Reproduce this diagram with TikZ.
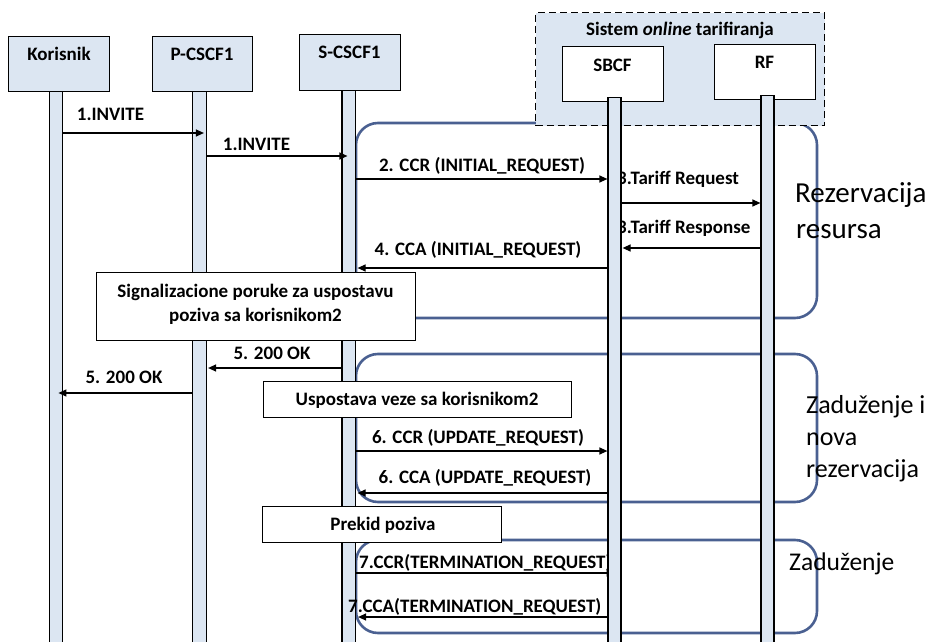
\documentclass[tikz,border=0pt]{standalone}
\usepackage{fontspec}
\setmainfont{Carlito}
\usetikzlibrary{arrows.meta,calc}
\definecolor{lb}{RGB}{220,230,242}
\definecolor{rb}{RGB}{74,96,145}
\begin{document}
\begin{tikzpicture}[x=1pt,y=-1pt,
  hdr/.style={draw=black,line width=1.3pt,fill=lb,minimum width=101pt,minimum height=55pt,inner sep=0pt,anchor=north west},
  wbox/.style={draw=black,line width=1.3pt,fill=white,inner sep=0pt,anchor=north west},
  btxt/.style={font=\fontsize{19}{23}\selectfont\bfseries,inner sep=0pt,anchor=base},
  rtxt/.style={font=\fontsize{26}{30}\selectfont,inner sep=0pt,anchor=base west},
  life/.style={draw=black,line width=1.2pt,fill=lb,inner sep=0pt,anchor=north},
  msg/.style={line width=1.2pt,-{Triangle[length=8pt,width=7pt]}},
  rbox/.style={draw=rb,line width=2.6pt,rounded corners=22pt}]
\useasboundingbox (0,0) rectangle (932,642);
% rounded phase boxes
\draw[rbox] (356,123) rectangle (817,318);
\draw[rbox] (356,354) rectangle (817,502);
\draw[rbox] (356,540) rectangle (817,633);
% online charging system
\node[draw=black,line width=1.3pt,dash pattern=on 7pt off 4pt,fill=lb,minimum width=289pt,minimum height=113pt,inner sep=0pt,anchor=north west] (sys) at (535,12) {};
\node[btxt] (tsys) at (680,36) {Sistem \textit{online} tarifiranja};
% headers
\node[hdr] (hK) at (8,36) {};
\node[hdr,minimum width=100pt] (hP) at (152,36) {};
\node[hdr,minimum height=56pt] (hS) at (299,34) {};
\node[wbox,minimum width=101pt,minimum height=55pt] (hB) at (562,46) {};
\node[wbox,minimum width=101pt,minimum height=55pt] (hR) at (714,44) {};
\node[btxt] (tK) at (59,60) {Korisnik};
\node[btxt] (tP) at (202,60) {P-CSCF1};
\node[btxt] (tS) at (349.5,59) {S-CSCF1};
\node[btxt] (tB) at (612.5,71) {SBCF};
\node[btxt] (tR) at (764.5,69) {RF};
% message labels
\node[btxt] (m1) at (110.5,121) {1.INVITE};
\node[btxt] (m2) at (256.5,150) {1.INVITE};
\node[btxt] (m3) at (482,171) {2. CCR (INITIAL\_REQUEST)};
\node[btxt,anchor=base west] (m4) at (617,184) {3.Tariff Request};
\node[btxt,anchor=base west] (m5) at (617,233) {3.Tariff Response};
\node[btxt] (m6) at (478,255) {4. CCA (INITIAL\_REQUEST)};
\node[btxt] (m7) at (272,359) {5. 200 OK};
\node[btxt] (m8) at (124,383) {5. 200 OK};
\node[btxt] (m9) at (478,443) {6. CCR (UPDATE\_REQUEST)};
\node[btxt] (m10) at (485,483) {6. CCA (UPDATE\_REQUEST)};
\node[btxt,anchor=base west] (m11) at (359,568) {7.CCR(TERMINATION\_REQUEST)};
% lifelines (coordinates for the hidden arrow)
\coordinate (LBc) at (614.5,573);
\draw[msg] (356,573) -- (LBc);
\node[life,minimum width=13pt,minimum height=555pt] (LK) at (56.3,91) {};
\node[life,minimum width=14pt,minimum height=555pt] (LP) at (199.5,91) {};
\node[life,minimum width=13.5pt,minimum height=556pt] (LS) at (348.75,90) {};
\node[life,minimum width=13pt,minimum height=549pt] (LB) at (614.5,97) {};
\node[life,minimum width=13pt,minimum height=551pt] (LR) at (767.5,95) {};
\node[btxt,anchor=base west] (m12) at (348,612) {7.CCA(TERMINATION\_REQUEST)};
% messages
\draw[msg] (LK.east|-0,133) -- ($(LP.west|-0,133)+(12,0)$);
\draw[msg] (LP.east|-0,156) -- ($(LS.west|-0,156)+(6,0)$);
\draw[msg] (LS.east|-0,179) -- (LB.west|-0,179);
\draw[msg] (LB.east|-0,203) -- (LR.west|-0,203);
\draw[msg] (LR.west|-0,248) -- ($(LB.east|-0,248)+(1,0)$);
\draw[msg] (LB.west|-0,268) -- ($(LS.east|-0,268)+(1.5,0)$);
\draw[msg] (LS.west|-0,368) -- ($(LP.east|-0,368)+(1,0)$);
\draw[msg] (LP.west|-0,393) -- ($(LK.east|-0,393)-(5,0)$);
\draw[msg] (LS.east|-0,451) -- (LB.west|-0,451);
\draw[msg] (LB.west|-0,493) -- ($(LS.east|-0,493)+(1.5,0)$);
\draw[msg] (LB.west|-0,617) -- ($(LS.east|-0,617)+(2,0)$);
% note boxes
\node[wbox,minimum width=319pt,minimum height=68pt] (n1) at (96,272) {};
\node[btxt] (n1a) at (255.5,297) {Signalizacione poruke za uspostavu};
\node[btxt] (n1b) at (255.5,321) {poziva sa korisnikom2};
\node[wbox,minimum width=308pt,minimum height=36pt] (n2) at (263,381) {};
\node[btxt] (n2a) at (417,405) {Uspostava veze sa korisnikom2};
\node[wbox,minimum width=239pt,minimum height=36pt] (n3) at (262,506) {};
\node[btxt] (n3a) at (383,530) {Prekid poziva};
% phase labels
\node[rtxt,font=\fontsize{29}{34}\selectfont] (r1) at (795,202) {Rezervacija};
\node[rtxt,font=\fontsize{29}{34}\selectfont] (r2) at (796,238) {resursa};
\node[rtxt] (z1) at (806,413) {Zaduženje i};
\node[rtxt] (z2) at (806,445) {nova};
\node[rtxt] (z3) at (806,477) {rezervacija};
\node[rtxt,font=\fontsize{25.5}{30}\selectfont] (z4) at (789,570) {Zaduženje};
\end{tikzpicture}
\end{document}
